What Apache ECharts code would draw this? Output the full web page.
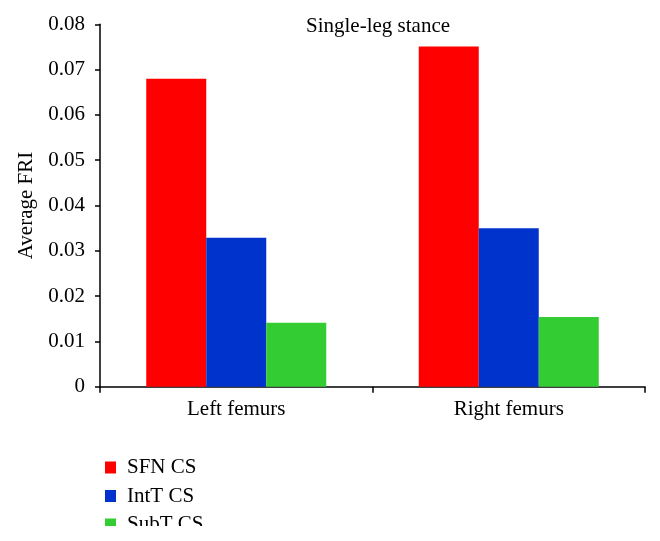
<!DOCTYPE html>
<html>
<head>
<meta charset="utf-8">
<script src="https://cdn.jsdelivr.net/npm/echarts@6/dist/echarts.min.js"></script>
<style>html,body{margin:0;padding:0;background:#fff;}#c{width:660px;height:541px;}</style>
</head>
<body>
<div id="c"></div>
<script>
const categories = ['Left femurs', 'Right femurs'];
const seriesNames = ['SFN CS', 'IntT CS', 'SubT CS'];
const sfnValues = [0.0680, 0.0751];
const intTValues = [0.0329, 0.0350];
const subTValues = [0.0141, 0.0154];
const yTicks = { min: 0, max: 0.08, interval: 0.01 };
const colors = ['#ff0000', '#0033cc', '#33cc33'];

const font = 'Liberation Serif';
const chart = echarts.init(document.getElementById('c'));
const values = [sfnValues, intTValues, subTValues];
chart.setOption({
  animation: false,
  backgroundColor: '#fff',
  title: {
    text: 'Single-leg stance',
    left: 373, textAlign: 'center', top: 11,
    textStyle: { fontFamily: font, fontSize: 21, fontWeight: 'normal', color: '#000' }
  },
  legend: {
    orient: 'vertical', left: 100, top: 452,
    itemWidth: 11, itemHeight: 12, itemGap: 7.5,
    icon: 'rect',
    textStyle: { fontFamily: font, fontSize: 21, color: '#000', padding: [0, 0, 0, 6] },
    data: seriesNames
  },
  graphic: [{
    type: 'rect', left: 0, top: 526, z: 1000,
    shape: { width: 660, height: 15 },
    style: { fill: '#fff' }, silent: true
  }],
  grid: { left: 100, right: 15, top: 24.3, bottom: 154.3, containLabel: false },
  xAxis: {
    type: 'category', data: categories,
    axisLine: { lineStyle: { color: '#000', width: 1.5 } },
    axisTick: { show: true, length: 6, lineStyle: { color: '#000', width: 1.5 } },
    axisLabel: { fontFamily: font, fontSize: 21, color: '#000', margin: 12 }
  },
  yAxis: {
    type: 'value', min: yTicks.min, max: yTicks.max, interval: yTicks.interval,
    name: 'Average FRI', nameLocation: 'middle', nameGap: 63, nameRotate: 90,
    nameTextStyle: { fontFamily: font, fontSize: 21, color: '#000' },
    axisLine: { show: true, lineStyle: { color: '#000', width: 1.5 } },
    axisTick: { show: true, length: 5, lineStyle: { color: '#000', width: 1.5 } },
    splitLine: { show: false },
    axisLabel: {
      fontFamily: font, fontSize: 21, color: '#000', margin: 15,
      formatter: v => v === 0 ? '0' : v.toFixed(2)
    }
  },
  series: seriesNames.map((n, i) => ({
    name: n, type: 'bar', data: values[i], barWidth: 60, barGap: '0%',
    itemStyle: { color: colors[i] }
  }))
});
</script>
</body>
</html>
